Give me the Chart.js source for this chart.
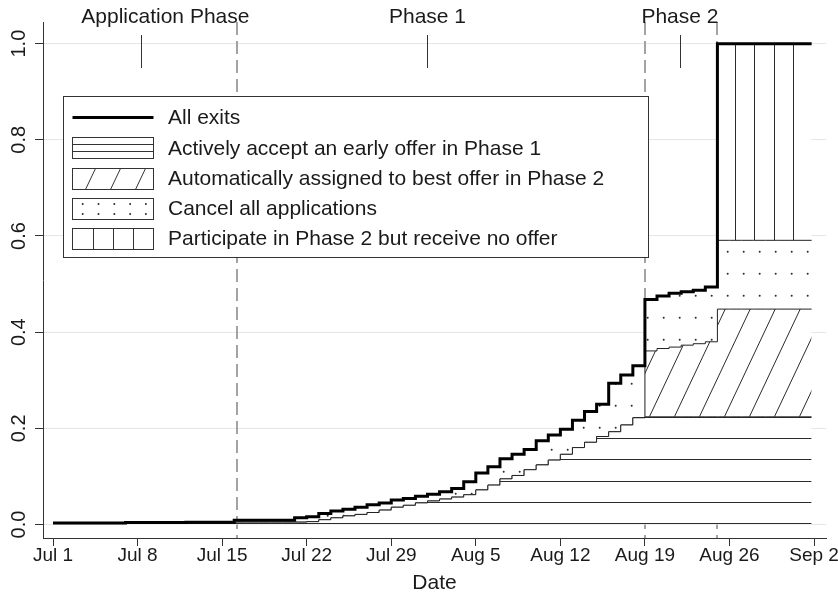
<!DOCTYPE html>
<html>
<head>
<meta charset="utf-8">
<script src="https://cdn.jsdelivr.net/npm/chart.js@4"></script>
<style>
  body { margin: 0; background: #fff; }
  canvas { display: block; }
</style>
</head>
<body>
<canvas id="myChart" width="838" height="600"></canvas>
<script>
// Data: share of applicants who have left, read day by day (day 0 = Jul 1)

const days = [0,1,2,3,4,5,6,7,8,9,10,11,12,13,14,15,16,17,18,19,20,21,22,23,24,25,26,27,28,29,30,
  31,32,33,34,35,36,37,38,39,40,41,42,43,44,45,46,47,48,49,50,51,52,53,54,55,56,57,58,59,60,61,62,62.8];

const allExits = [0.003,0.003,0.003,0.003,0.003,0.003, 0.004,0.004,0.004,0.004,0.004,
  0.005,0.005,0.005,0.005, 0.009,0.009,0.009,0.009,0.009,
  0.014,0.016,0.023,0.028,0.032,0.036,0.041,0.045,0.051,0.054,0.059,0.063,0.068,0.075,0.089,
  0.107,0.120,0.137,0.146,0.156,0.174,0.186,0.198,0.217,0.235,0.250,0.294,0.311,0.330,
  0.468,0.475,0.481,0.484,0.487,0.494, 1,1,1,1,1,1,1,1, 1];

const acceptEarly = [0.002,0.002,0.002,0.002,0.002,0.002, 0.003,0.003,0.003,0.003,0.003,0.003,0.003,0.003,0.003,
  0.005,0.005,0.005,0.005,0.005,
  0.005,0.006,0.010,0.014,0.018,0.021,0.025,0.030,0.036,0.040,0.045,0.049,0.053,0.057,0.062,
  0.072,0.082,0.095,0.102,0.114,0.124,0.134,0.146,0.160,0.171,0.183,0.193,0.207,0.222,
  0.224,0.224,0.224,0.224,0.224,0.224,0.224,0.224,0.224,0.224,0.224,0.224,0.224,0.224, 0.224];

// Phase 2 only (days 49..62 and end): tops of the auto-assigned and cancel bands
const phase2Start = 49;
const autoAssignedTop = [0.361,0.366,0.369,0.373,0.376,0.380, 0.448,0.448,0.448,0.448,0.448,0.448,0.448,0.448, 0.448];
const cancelAllTop = [0.468,0.475,0.481,0.484,0.487,0.494, 0.591,0.591,0.591,0.591,0.591,0.591,0.591,0.591, 0.591];

const seriesLabels = [
  'All exits',
  'Actively accept an early offer in Phase 1',
  'Automatically assigned to best offer in Phase 2',
  'Cancel all applications',
  'Participate in Phase 2 but receive no offer'
];

const tickDays = [0, 7, 14, 21, 28, 35, 42, 49, 56, 63];
const tickLabels = ['Jul 1', 'Jul 8', 'Jul 15', 'Jul 22', 'Jul 29', 'Aug 5', 'Aug 12', 'Aug 19', 'Aug 26', 'Sep 2'];
const yTickValues = [0, 0.2, 0.4, 0.6, 0.8, 1.0];

const phaseNames = ['Application Phase', 'Phase 1', 'Phase 2'];
const phaseTickDays = [7.3, 31.0, 51.9];
const phaseLabelDays = [9.3, 31.0, 51.9];
const phaseBreakDays = [15.25, 49, 55];

// Hatch patterns (white background so grid lines are hidden under the areas)

const INK = '#2b2b2b';
const FONT = "'Liberation Sans', Arial, sans-serif";

function makePattern(w, h, draw) {
  const c = document.createElement('canvas');
  c.width = w;
  c.height = h;
  const g = c.getContext('2d');
  g.fillStyle = '#fff';
  g.fillRect(0, 0, w, h);
  draw(g);
  return g.createPattern(c, 'repeat');
}

const hatchHorizontal = makePattern(4, 106, g => {
  g.fillStyle = INK;
  [14, 35, 57, 78, 99].forEach(y => g.fillRect(0, y, 4, 1));
});

const hatchDiagonal = makePattern(25, 53, g => {
  g.strokeStyle = INK;
  g.lineWidth = 1;
  g.beginPath();
  [-29, -4, 21].forEach(x0 => { g.moveTo(x0, 53); g.lineTo(x0 + 25, 0); });
  g.stroke();
});

const hatchDots = makePattern(16, 22, g => {
  g.fillStyle = INK;
  g.beginPath();
  g.arc(7.7, 9.7, 1.0, 0, 2 * Math.PI);
  g.fill();
});

const hatchVertical = makePattern(77, 4, g => {
  g.fillStyle = INK;
  [4, 23, 42, 61].forEach(x => g.fillRect(x, 0, 1, 4));
});

// Build stacked tops (bands are zero-height outside Phase 2)

function toPoints(values) {
  return days.map((d, i) => ({x: d, y: values[i]}));
}

const autoTop = acceptEarly.slice(0, phase2Start).concat(autoAssignedTop);
const cancelTop = allExits.slice(0, phase2Start).concat(cancelAllTop);

// Plugins

const phaseLines = {
  id: 'phaseLines',
  beforeDatasetsDraw(chart) {
    const {ctx, chartArea, scales} = chart;
    ctx.save();
    ctx.strokeStyle = '#a3a3a3';
    ctx.lineWidth = 2;
    ctx.setLineDash([13, 6]);
    phaseBreakDays.forEach(d => {
      const x = Math.round(scales.x.getPixelForValue(d));
      ctx.beginPath();
      ctx.moveTo(x, chartArea.top);
      ctx.lineTo(x, chartArea.bottom);
      ctx.stroke();
    });
    ctx.restore();
  }
};

const extras = {
  id: 'extras',
  afterDraw(chart) {
    const {ctx, scales} = chart;
    ctx.save();

    // y tick labels, turned like the original
    ctx.fillStyle = '#1a1a1a';
    ctx.font = '20px ' + FONT;
    ctx.textAlign = 'center';
    ctx.textBaseline = 'middle';
    yTickValues.forEach(v => {
      const y = scales.y.getPixelForValue(v);
      ctx.save();
      ctx.translate(19, y);
      ctx.rotate(-Math.PI / 2);
      ctx.fillText(v.toFixed(1), 0, 0);
      ctx.restore();
    });

    // legend box
    const bx = 63.5, by = 96.5, bw = 585, bh = 161;
    ctx.fillStyle = '#fff';
    ctx.fillRect(bx, by, bw, bh);
    ctx.strokeStyle = '#333';
    ctx.lineWidth = 1;
    ctx.strokeRect(bx, by, bw, bh);

    const sx = 72.5, sw = 81, sh = 21;
    seriesLabels.forEach((label, i) => {
      const cy = 117.5 + 30.3 * i;
      const top = Math.round(cy - sh / 2) + 0.5;
      ctx.strokeStyle = '#333';
      ctx.fillStyle = INK;
      ctx.lineWidth = 1;
      if (i === 0) {
        ctx.strokeStyle = '#000';
        ctx.lineWidth = 3;
        ctx.beginPath();
        ctx.moveTo(sx, cy);
        ctx.lineTo(sx + sw, cy);
        ctx.stroke();
      } else {
        ctx.strokeRect(sx, top, sw, sh);
        ctx.beginPath();
        if (i === 1) {
          [7, 14].forEach(dy => { ctx.moveTo(sx, top + dy); ctx.lineTo(sx + sw, top + dy); });
        } else if (i === 2) {
          [13, 38, 63].forEach(dx => { ctx.moveTo(sx + dx, top + sh); ctx.lineTo(sx + dx + 10, top); });
        } else if (i === 4) {
          [1, 2, 3].forEach(k => {
            const x = Math.round(sx + sw * k / 4) + 0.5;
            ctx.moveTo(x, top); ctx.lineTo(x, top + sh);
          });
        }
        ctx.stroke();
        if (i === 3) {
          [5.5, 15.5].forEach(dy => {
            for (let k = 0; k < 5; k++) {
              ctx.beginPath();
              ctx.arc(sx + 10.2 + 15.8 * k, top + dy, 1.0, 0, 2 * Math.PI);
              ctx.fill();
            }
          });
        }
      }
      ctx.fillStyle = '#1a1a1a';
      ctx.font = '21px ' + FONT;
      ctx.textAlign = 'left';
      ctx.textBaseline = 'middle';
      ctx.fillText(label, 168, cy + 1);
    });

    // phase labels and marks along the top
    ctx.font = '21px ' + FONT;
    ctx.textAlign = 'center';
    ctx.textBaseline = 'alphabetic';
    ctx.fillStyle = '#1a1a1a';
    phaseNames.forEach((name, i) => {
      ctx.fillText(name, scales.x.getPixelForValue(phaseLabelDays[i]), 23);
    });
    ctx.strokeStyle = '#333';
    ctx.lineWidth = 1;
    phaseTickDays.forEach(d => {
      const x = Math.round(scales.x.getPixelForValue(d)) + 0.5;
      ctx.beginPath();
      ctx.moveTo(x, 35);
      ctx.lineTo(x, 68);
      ctx.stroke();
    });

    ctx.restore();
  }
};

// Chart setup

Chart.defaults.font.family = FONT;
Chart.defaults.color = '#1a1a1a';

const ctx = document.getElementById('myChart').getContext('2d');

const myChart = new Chart(ctx, {
  type: 'line',
  data: {
    datasets: [
      {
        label: seriesLabels[0],
        data: toPoints(allExits),
        stepped: true,
        borderColor: '#000',
        borderWidth: 3,
        pointRadius: 0,
        fill: false
      },
      {
        label: seriesLabels[1],
        data: toPoints(acceptEarly),
        stepped: true,
        borderColor: '#222',
        borderWidth: 1,
        pointRadius: 0,
        backgroundColor: hatchHorizontal,
        fill: 'origin'
      },
      {
        label: seriesLabels[2],
        data: toPoints(autoTop),
        stepped: true,
        borderColor: '#222',
        borderWidth: 1,
        pointRadius: 0,
        backgroundColor: hatchDiagonal,
        fill: '-1'
      },
      {
        label: seriesLabels[3],
        data: toPoints(cancelTop),
        stepped: true,
        borderColor: '#222',
        borderWidth: 1,
        pointRadius: 0,
        backgroundColor: hatchDots,
        fill: '-1'
      },
      {
        label: seriesLabels[4],
        data: toPoints(allExits),
        stepped: true,
        borderColor: '#222',
        borderWidth: 0,
        pointRadius: 0,
        backgroundColor: hatchVertical,
        fill: '-1'
      }
    ]
  },
  options: {
    responsive: false,
    animation: false,
    layout: { padding: { top: 22, right: 12, bottom: 0, left: 0 } },
    plugins: {
      legend: { display: false },
      tooltip: { enabled: false }
    },
    scales: {
      x: {
        type: 'linear',
        min: -0.83,
        max: 63.99,
        afterBuildTicks: s => { s.ticks = tickDays.map(v => ({value: v})); },
        afterFit: s => { s.height = 62; s.paddingLeft = 0; s.paddingRight = 0; },
        ticks: {
          callback: (v, i) => tickLabels[i],
          font: { size: 19 },
          padding: -2,
          maxRotation: 0,
          autoSkip: false
        },
        grid: { drawOnChartArea: false, tickLength: 8, tickColor: '#333' },
        border: { color: '#333' },
        title: { display: true, text: 'Date', font: { size: 21 }, padding: { top: 0, bottom: 4 } }
      },
      y: {
        type: 'linear',
        min: -0.028,
        max: 1.045,
        afterBuildTicks: s => { s.ticks = yTickValues.map(v => ({value: v})); },
        afterFit: s => { s.width = 43; },
        ticks: { display: false },
        grid: { color: '#e6e6e6', tickColor: '#333', tickLength: 8 },
        border: { color: '#333' }
      }
    }
  },
  plugins: [phaseLines, extras]
});
</script>
</body>
</html>
